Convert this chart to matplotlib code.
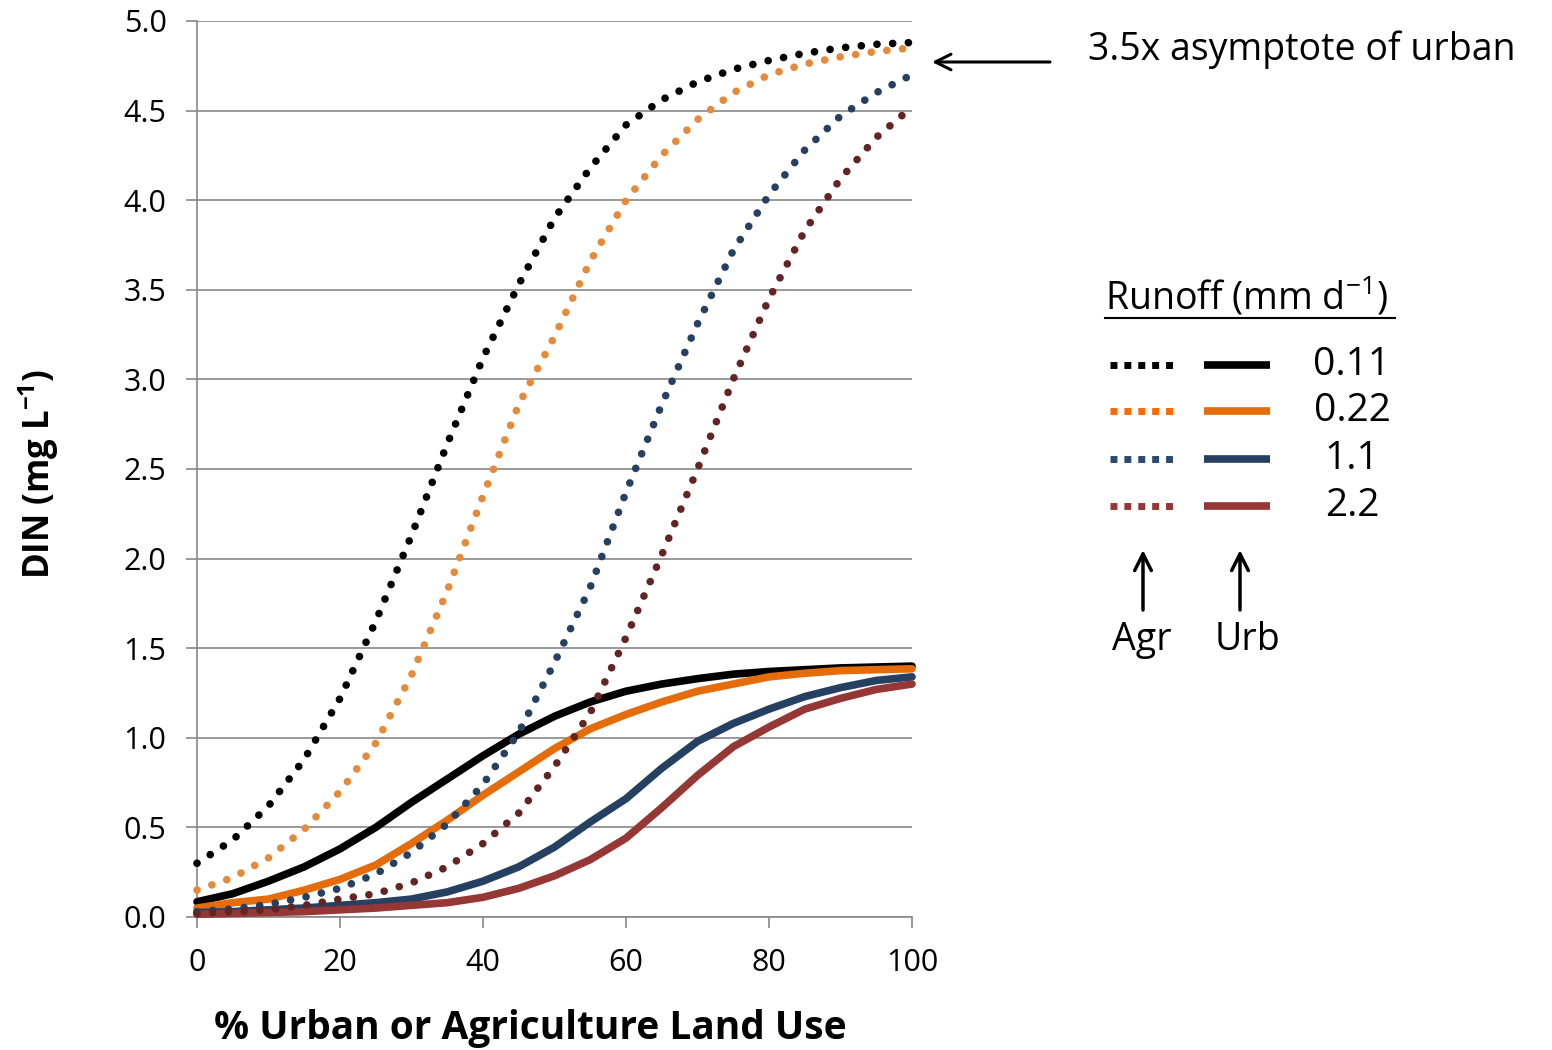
import matplotlib
matplotlib.use('Agg')
import matplotlib.pyplot as plt
from matplotlib.ticker import FormatStrFormatter

plt.rcParams['font.family'] = ['Open Sans', 'DejaVu Sans']
plt.rcParams['mathtext.fontset'] = 'custom'
plt.rcParams['mathtext.rm'] = 'Open Sans'

# % urban or agriculture land use
pct = [0, 5, 10, 15, 20, 25, 30, 35, 40, 45, 50,
       55, 60, 65, 70, 75, 80, 85, 90, 95, 100]

# agriculture (dotted), DIN mg/L
agr_011 = [0.30, 0.43, 0.62, 0.88, 1.22, 1.65, 2.13, 2.64, 3.12, 3.53, 3.90,
           4.18, 4.42, 4.56, 4.66, 4.73, 4.78, 4.82, 4.85, 4.87, 4.88]
agr_022 = [0.15, 0.22, 0.33, 0.49, 0.70, 0.97, 1.35, 1.82, 2.35, 2.86, 3.24,
           3.66, 4.00, 4.25, 4.45, 4.60, 4.70, 4.76, 4.80, 4.83, 4.85]
agr_11 = [0.03, 0.045, 0.07, 0.11, 0.16, 0.24, 0.36, 0.52, 0.74, 1.03, 1.42,
          1.84, 2.37, 2.86, 3.31, 3.72, 4.03, 4.28, 4.47, 4.60, 4.70]
agr_22 = [0.02, 0.03, 0.04, 0.065, 0.10, 0.13, 0.19, 0.28, 0.41, 0.58, 0.84,
          1.14, 1.56, 2.02, 2.50, 3.00, 3.45, 3.83, 4.12, 4.35, 4.52]

# urban (solid), DIN mg/L
urb_011 = [0.085, 0.13, 0.20, 0.28, 0.38, 0.50, 0.64, 0.77, 0.90, 1.02, 1.12,
           1.20, 1.26, 1.30, 1.33, 1.355, 1.37, 1.38, 1.39, 1.395, 1.40]
urb_022 = [0.05, 0.08, 0.10, 0.15, 0.21, 0.29, 0.41, 0.54, 0.68, 0.81, 0.94,
           1.05, 1.13, 1.20, 1.26, 1.30, 1.34, 1.36, 1.375, 1.38, 1.385]
urb_11 = [0.025, 0.03, 0.04, 0.05, 0.065, 0.08, 0.10, 0.14, 0.20, 0.28, 0.39,
          0.53, 0.66, 0.83, 0.98, 1.08, 1.16, 1.23, 1.28, 1.32, 1.34]
urb_22 = [0.015, 0.02, 0.025, 0.03, 0.04, 0.05, 0.065, 0.08, 0.11, 0.16, 0.23,
          0.32, 0.44, 0.61, 0.79, 0.95, 1.06, 1.16, 1.22, 1.27, 1.30]

runoff_labels = ['0.11', '0.22', '1.1', '2.2']
agr_colors = ['#000000', '#E38A3B', '#254061', '#632523']
urb_colors = ['#000000', '#E46C0A', '#254061', '#953735']
legend_agr_colors = ['#000000', '#FF6A00', '#2B4A6E', '#953735']

W, H = 1552, 1050
fig = plt.figure(figsize=(W / 100, H / 100), dpi=100)
ax = fig.add_axes([197 / W, 1 - 917 / H, (912 - 197) / W, (917 - 21) / H])

agr = [agr_011, agr_022, agr_11, agr_22]
urb = [urb_011, urb_022, urb_11, urb_22]
for ys, c in zip(urb, urb_colors):
    ax.plot(pct, ys, color=c, lw=5.5, solid_capstyle='round',
            solid_joinstyle='round', clip_on=False, zorder=3)
for ys, c in zip(agr, agr_colors):
    ax.plot(pct, ys, color=c, lw=5.5, dashes=(0.01, 2.05),
            dash_capstyle='round', clip_on=False, zorder=4)

grid_c = '#888888'
ax.set_xlim(0, 100)
ax.set_ylim(0, 5)
ax.set_xticks(range(0, 101, 20))
ax.set_yticks([i * 0.5 for i in range(11)])
ax.yaxis.set_major_formatter(FormatStrFormatter('%.1f'))
ax.grid(axis='y', color=grid_c, lw=1.2)
ax.set_axisbelow(True)
for s in ['top', 'right']:
    ax.spines[s].set_visible(False)
for s in ['left', 'bottom']:
    ax.spines[s].set_color(grid_c)
    ax.spines[s].set_linewidth(1.2)
ax.tick_params(axis='both', direction='out', length=8, width=1.2,
               color=grid_c, labelsize=22, pad=14)

fig.text(530 / W, 1 - 1028 / H, '% Urban or Agriculture Land Use',
         ha='center', va='center', fontsize=28, fontweight='bold')
fig.text(38 / W, 1 - 474 / H, 'DIN (mg L$^{\\mathregular{-1}}$)',
         ha='center', va='center', rotation=90, fontsize=25,
         fontweight='bold')

# overlay in pixel coordinates for the hand-drawn key and notes
lax = fig.add_axes([0, 0, 1, 1])
lax.set_xlim(0, W)
lax.set_ylim(H, 0)
lax.axis('off')
lax.patch.set_alpha(0)

lax.annotate('', xy=(932, 62), xytext=(1050, 62),
             arrowprops=dict(arrowstyle='->', lw=2.2, color='black',
                             mutation_scale=28, shrinkA=0, shrinkB=0))
lax.text(1088, 50, '3.5x asymptote of urban', ha='left', va='center',
         fontsize=27)

lax.text(1105, 297, 'Runoff (mm d$^{\\mathregular{-1}}$)', ha='left',
         va='center', fontsize=27)
lax.plot([1105, 1395], [318, 318], color='black', lw=1.5)

rows_y = [365, 411, 459, 506]
for y, lbl, ca, cu in zip(rows_y, runoff_labels, legend_agr_colors,
                          urb_colors):
    lax.plot([1110, 1176], [y, y], color=ca, lw=5, dashes=(1, 1),
             dash_capstyle='butt')
    lax.plot([1204, 1270], [y, y], color=cu, lw=5.5, solid_capstyle='butt')
    lax.text(1352, y, lbl, ha='center', va='center', fontsize=28)

for x, lbl in zip([1143, 1240], ['Agr', 'Urb']):
    lax.annotate('', xy=(x, 550), xytext=(x, 610),
                 arrowprops=dict(arrowstyle='->', lw=2.5, color='black',
                                 mutation_scale=30, shrinkA=0, shrinkB=0))
lax.text(1142, 640, 'Agr', ha='center', va='center', fontsize=27)
lax.text(1247, 640, 'Urb', ha='center', va='center', fontsize=27)

fig.savefig('out.png', dpi=100, facecolor='white')
